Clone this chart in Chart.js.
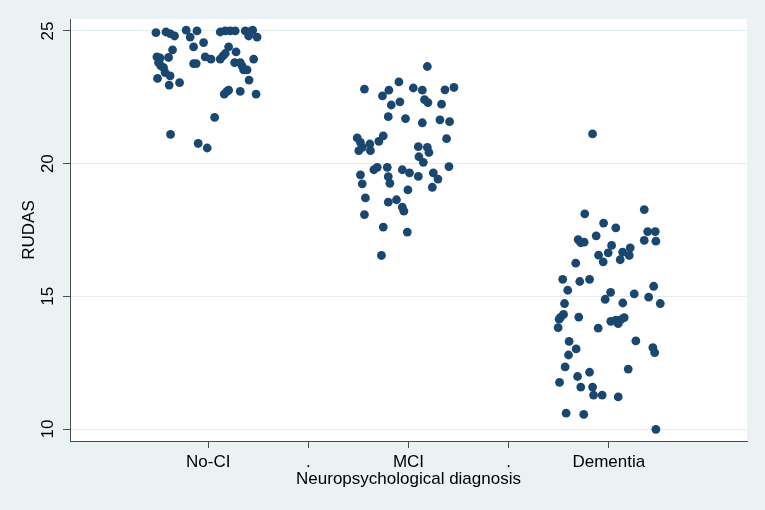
<!DOCTYPE html>
<html>
<head>
<meta charset="utf-8">
<title>RUDAS by neuropsychological diagnosis</title>
<script src="https://cdn.jsdelivr.net/npm/chart.js@4/dist/chart.umd.min.js"></script>
<style>
  html, body { margin: 0; padding: 0; background: #eaf2f3; }
  #wrap { width: 765px; height: 510px; }
</style>
</head>
<body>
<div id="wrap"><canvas id="rudasChart" width="765" height="510"></canvas></div>
<script>
// group names, in axis order
var categories = ['No-CI', 'MCI', 'Dementia'];

// x axis ticks: group positions and the "." between them
var xTickValues = [1, 1.5, 2, 2.5, 3];
var xTickLabels = ['No-CI', '.', 'MCI', '.', 'Dementia'];

// y axis ticks
var yTicks = [10, 15, 20, 25];

// jittered x position and RUDAS score
var noCiX = [0.739, 0.789, 0.81, 0.832, 0.89, 0.91, 0.944, 0.977, 0.927, 0.822,
  1.06, 1.085, 1.11, 1.135, 1.185, 1.21, 1.222, 1.202, 1.244, 1.102,
  1.139, 0.985, 1.014, 0.744, 0.76, 0.752, 0.764, 0.777, 0.802, 0.927,
  0.94, 1.06, 1.074, 1.085, 1.132, 1.16, 1.169, 1.177, 1.194, 1.227,
  0.747, 0.785, 0.81, 0.805, 0.857, 1.204, 1.08, 1.094, 1.102, 1.16,
  1.239, 1.032, 0.812, 0.95, 0.995];
var noCiY = [24.94, 24.96, 24.90, 24.81, 25.03, 24.77, 25.0, 24.56, 24.40, 24.29,
  24.96, 25.0, 25.0, 25.0, 25.0, 24.97, 25.03, 24.81, 24.77, 24.40,
  24.21, 24.02, 23.94, 24.02, 23.98, 23.81, 23.68, 23.62, 24.0, 23.77,
  23.77, 23.94, 24.06, 24.15, 23.81, 23.81, 23.68, 23.53, 23.53, 23.94,
  23.21, 23.43, 23.31, 22.96, 23.05, 23.15, 22.62, 22.72, 22.77, 22.72,
  22.62, 21.74, 21.10, 20.76, 20.59];

var mciX = [2.094, 1.78, 1.952, 1.902, 1.87, 2.024, 2.069, 2.182, 2.227, 1.914,
  1.957, 2.08, 2.097, 2.165, 1.899, 1.985, 2.069, 2.157, 2.205, 2.19,
  1.744, 1.76, 1.769, 1.807, 1.81, 1.852, 1.874, 1.752, 2.049, 2.094,
  2.102, 2.052, 2.074, 1.76, 1.769, 1.827, 1.844, 1.894, 1.899, 1.907,
  1.969, 2.005, 2.049, 2.124, 2.147, 2.202, 2.119, 1.997, 1.785, 1.899,
  1.94, 1.969, 1.977, 1.78, 1.874, 1.994, 1.865];
var mciY = [23.66, 22.81, 23.08, 22.77, 22.55, 22.85, 22.77, 22.78, 22.87, 22.21,
  22.33, 22.41, 22.30, 22.24, 21.77, 21.70, 21.54, 21.65, 21.58, 20.94,
  20.97, 20.80, 20.61, 20.74, 20.49, 20.84, 21.05, 20.49, 20.64, 20.61,
  20.42, 20.26, 20.05, 19.58, 19.24, 19.77, 19.86, 19.86, 19.51, 19.26,
  19.77, 19.65, 19.52, 19.65, 19.42, 19.89, 19.11, 19.01, 18.71, 18.55,
  18.64, 18.36, 18.21, 18.08, 17.61, 17.42, 16.54];

var demX = [2.919, 2.88, 3.177, 2.974, 3.035, 3.194, 3.232, 2.847, 2.86, 2.877,
  2.937, 3.177, 3.235, 3.014, 2.997, 3.107, 3.102, 3.069, 3.057, 2.949,
  2.972, 2.835, 2.77, 2.855, 2.904, 3.224, 2.795, 3.009, 2.982, 3.127,
  3.199, 3.257, 3.07, 2.779, 2.774, 2.76, 2.752, 2.85, 2.747, 2.947,
  3.01, 3.035, 3.047, 3.077, 3.06, 2.802, 2.837, 2.799, 3.135, 3.22,
  3.229, 2.782, 3.097, 2.844, 2.904, 2.754, 2.86, 2.919, 2.924, 2.967,
  3.047, 2.787, 2.875, 3.235];
var demY = [21.12, 18.11, 18.27, 17.76, 17.58, 17.44, 17.44, 17.14, 17.02, 17.04,
  17.28, 17.11, 17.08, 16.92, 16.64, 16.83, 16.54, 16.67, 16.38, 16.55,
  16.30, 16.25, 15.64, 15.56, 15.64, 15.38, 15.23, 15.15, 14.89, 15.09,
  14.97, 14.73, 14.75, 14.73, 14.32, 14.22, 14.14, 14.22, 13.82, 13.80,
  14.06, 14.10, 13.97, 14.20, 14.12, 13.30, 13.02, 12.79, 13.32, 13.07,
  12.88, 12.34, 12.26, 11.98, 12.14, 11.76, 11.58, 11.58, 11.28, 11.28,
  11.21, 10.60, 10.55, 9.99];

// pair x and y into chart.js points
function toPoints(xs, ys) {
    return xs.map(function (x, i) { return { x: x, y: ys[i] }; });
}

var markerColor = '#1a476f';
var axisColor = '#4d4d4d';
var fontFamily = '"Liberation Sans", Arial, sans-serif';

// paints the grey page and the white plot region
var backgroundPlugin = {
    id: 'stataBackground',
    beforeDraw: function (chart) {
        var ctx = chart.ctx;
        var area = chart.chartArea;
        ctx.save();
        ctx.fillStyle = '#eaf2f3';
        ctx.fillRect(0, 0, chart.width, chart.height);
        ctx.fillStyle = '#ffffff';
        ctx.fillRect(area.left, area.top, area.right - area.left, area.bottom - area.top);
        ctx.restore();
    }
};

// y tick labels turned sideways, like Stata does
var yLabelPlugin = {
    id: 'sidewaysYLabels',
    afterDraw: function (chart) {
        var ctx = chart.ctx;
        var yScale = chart.scales.y;
        ctx.save();
        ctx.fillStyle = '#000';
        ctx.font = '17px ' + fontFamily;
        ctx.textAlign = 'center';
        ctx.textBaseline = 'middle';
        yTicks.forEach(function (v) {
            var py = yScale.getPixelForValue(v);
            ctx.save();
            ctx.translate(yScale.right - 22, py);
            ctx.rotate(-Math.PI / 2);
            ctx.fillText(String(v), 0, 0);
            ctx.restore();
        });
        ctx.restore();
    }
};

var datasets = [
    toPoints(noCiX, noCiY),
    toPoints(mciX, mciY),
    toPoints(demX, demY)
].map(function (pts, i) {
    return {
        label: categories[i],
        data: pts,
        backgroundColor: markerColor,
        borderColor: markerColor,
        borderWidth: 0,
        pointRadius: 4.4,
        pointHoverRadius: 4.4
    };
});

var ctx = document.getElementById('rudasChart').getContext('2d');
var rudasChart = new Chart(ctx, {
    type: 'scatter',
    data: { datasets: datasets },
    options: {
        responsive: false,
        animation: false,
        events: [],
        layout: { padding: { top: 19, right: 18, left: 0, bottom: 0 } },
        plugins: {
            legend: { display: false },
            tooltip: { enabled: false }
        },
        scales: {
            x: {
                type: 'linear',
                min: 0.31,
                max: 3.69,
                afterBuildTicks: function (scale) {
                    scale.ticks = xTickValues.map(function (v) { return { value: v }; });
                },
                afterFit: function (scale) { scale.height = 69; },
                border: { display: true, color: axisColor, width: 1 },
                grid: {
                    drawOnChartArea: false,
                    drawTicks: true,
                    tickLength: 7,
                    tickColor: axisColor
                },
                ticks: {
                    autoSkip: false,
                    maxRotation: 0,
                    minRotation: 0,
                    padding: 4,
                    color: '#000',
                    font: { family: fontFamily, size: 17 },
                    callback: function (value) {
                        var idx = xTickValues.indexOf(value);
                        return idx >= 0 ? xTickLabels[idx] : '';
                    }
                },
                title: {
                    display: true,
                    text: 'Neuropsychological diagnosis',
                    color: '#000',
                    font: { family: fontFamily, size: 17 },
                    padding: { top: 0, bottom: 20 }
                }
            },
            y: {
                type: 'linear',
                min: 9.55,
                max: 25.45,
                afterBuildTicks: function (scale) {
                    scale.ticks = yTicks.map(function (v) { return { value: v }; });
                },
                afterFit: function (scale) { scale.width = 70; },
                border: { display: true, color: axisColor, width: 1 },
                grid: {
                    color: '#e3ecee',
                    lineWidth: 1,
                    drawTicks: true,
                    tickLength: 7,
                    tickColor: axisColor
                },
                ticks: { display: false },
                title: {
                    display: true,
                    text: 'RUDAS',
                    color: '#000',
                    font: { family: fontFamily, size: 17 },
                    padding: { top: 19, bottom: 0 }
                }
            }
        }
    },
    plugins: [backgroundPlugin, yLabelPlugin]
});
</script>
</body>
</html>
